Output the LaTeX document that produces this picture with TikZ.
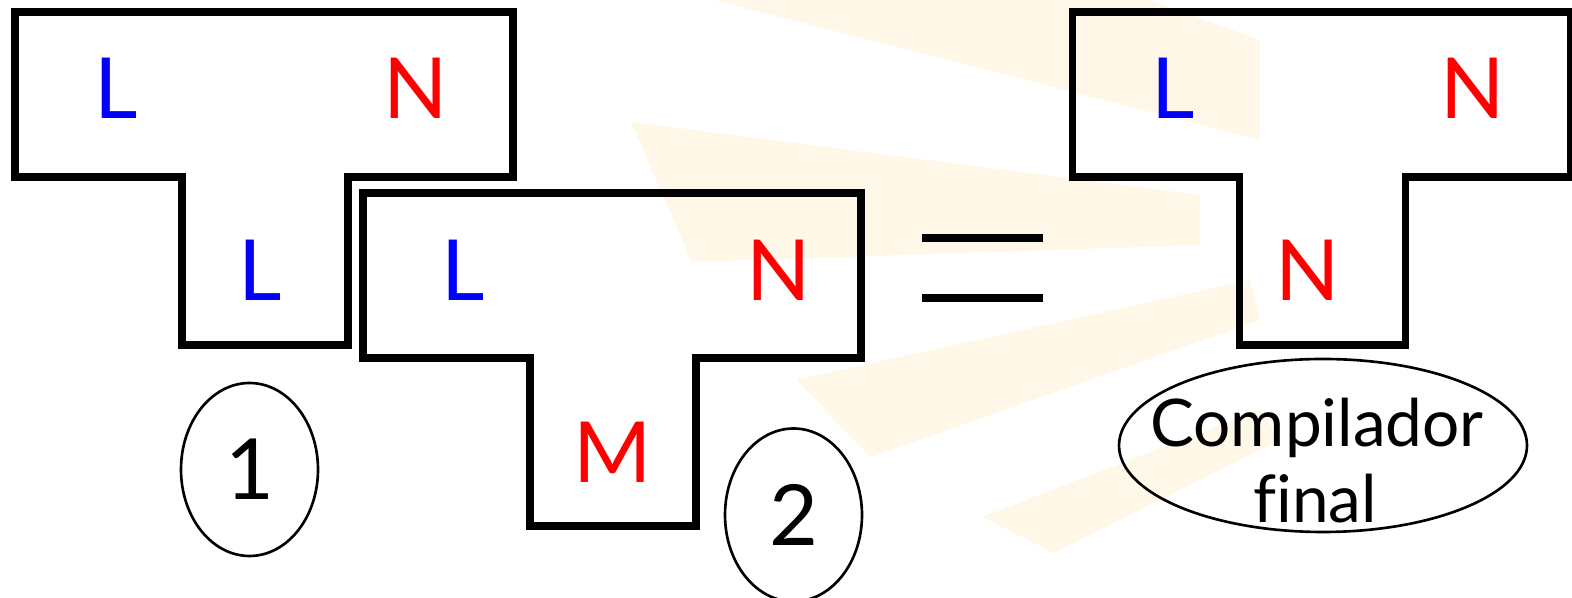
\documentclass[tikz,border=0pt]{standalone}
\usepackage{fontspec}
\setmainfont{Lato}[Ligatures=NoCommon]
\usepackage{tikz}
\usetikzlibrary{shapes.geometric}
\definecolor{langblue}{RGB}{0,0,255}
\definecolor{langred}{RGB}{255,0,0}
\definecolor{sunray}{RGB}{253,212,120}

\begin{document}
\begin{tikzpicture}[
    x=0.1mm, y=-0.1mm,
    tshape/.style={
        draw=black, line width=2pt, line join=miter
    },
    ray/.style={
        fill=sunray, opacity=0.17, draw=none
    },
    lang/.style={
        font=\fontsize{24}{28}\selectfont, anchor=base, inner sep=0pt
    },
    srclang/.style={lang, text=langblue},
    tgtlang/.style={lang, text=langred},
    tag/.style={
        ellipse, draw=black, line width=0.75pt, inner sep=0pt,
        minimum width=13.7mm, minimum height=17.3mm,
        font=\fontsize{24}{28}\selectfont
    },
    note/.style={
        font=\fontsize{18.7}{22}\selectfont, anchor=base, inner sep=0pt
    },
    eqbar/.style={line width=2.5pt}
]
\useasboundingbox (0,0) rectangle (1572,598);

% Faded sun rays in the background
\fill[ray] (714,0) -- (1150,0) -- (1260,40) -- (1260,140) -- cycle;
\fill[ray] (631,122) -- (1200,195) -- (1200,245) -- (692,262) -- cycle;
\fill[ray] (796,380) -- (1250,280) -- (1260,320) -- (871,457) -- cycle;
\fill[ray] (982,517) -- (1260,410) -- (1280,440) -- (1054,553) -- cycle;

% T-diagram 1: L -> N written in L
\draw[tshape] (15,12) -- ++(498,0) -- ++(0,165) -- ++(-165,0) -- ++(0,168)
    -- ++(-166,0) -- ++(0,-168) -- ++(-167,0) -- cycle;
\node[srclang] (t1src) at (116,119) {L};
\node[tgtlang] (t1tgt) at (416,119) {N};
\node[srclang] (t1impl) at (260,301) {L};
\node[tag] (tagone) at (249.5,469.5) {1};

% T-diagram 2: L -> N written in M
\draw[tshape] (363,193) -- ++(498,0) -- ++(0,165) -- ++(-165,0) -- ++(0,168)
    -- ++(-166,0) -- ++(0,-168) -- ++(-167,0) -- cycle;
\node[srclang] (t2src) at (463,301) {L};
\node[tgtlang] (t2tgt) at (779,301) {N};
\node[tgtlang] (t2impl) at (613,483) {M};
\node[tag] (tagtwo) at (793.5,515) {2};

% Equals sign
\draw[eqbar] (922,238) -- (1043,238);
\draw[eqbar] (922,298) -- (1043,298);

% T-diagram 3: final compiler L -> N written in N
\draw[tshape] (1072,12) -- ++(498,0) -- ++(0,165) -- ++(-165,0) -- ++(0,168)
    -- ++(-166,0) -- ++(0,-168) -- ++(-167,0) -- cycle;
\node[srclang] (t3src) at (1173,119) {L};
\node[tgtlang] (t3tgt) at (1473,119) {N};
\node[tgtlang] (t3impl) at (1308,301) {N};
\node[ellipse, draw=black, line width=0.75pt, minimum width=40.8mm,
      minimum height=17.3mm, inner sep=0pt] (finaltag) at (1323,445.5) {};
\node[note] (finalone) at (1317,447) {Compilador};
\node[note] (finaltwo) at (1315,523) {final};

\end{tikzpicture}
\end{document}
